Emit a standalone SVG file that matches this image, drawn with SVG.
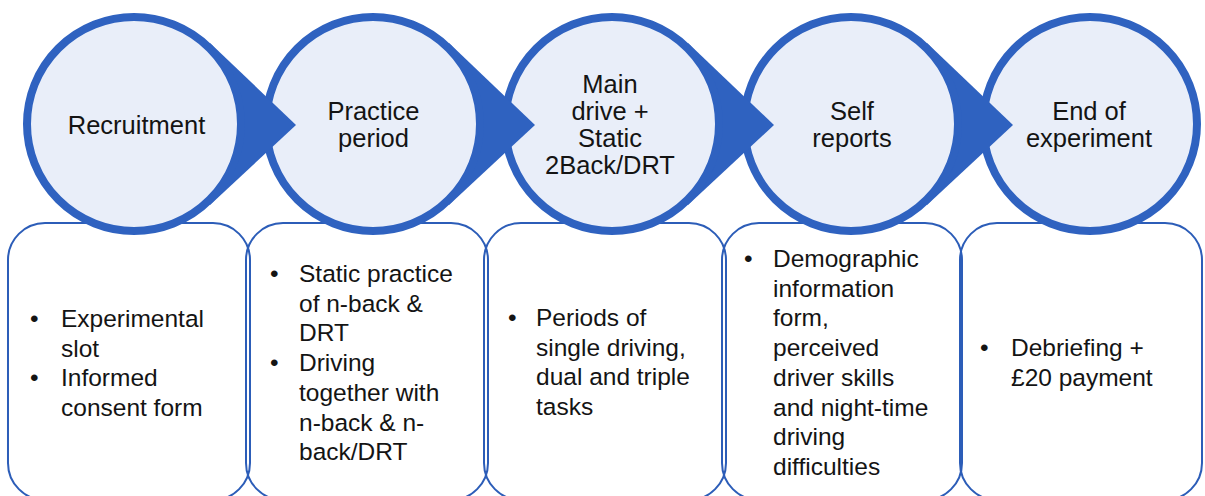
<svg xmlns="http://www.w3.org/2000/svg" width="1205" height="496" viewBox="0 0 1205 496">
<style>
.box{fill:none;stroke:#2C5DB8;stroke-width:2}
.ring{fill:#E9EEF9;stroke:#2F62C0;stroke-width:8}
.tab{fill:#2F62C0;stroke:none}
.t{font-family:"Liberation Sans",Arial,sans-serif;fill:#141414}
.c{font-size:25.5px;text-anchor:middle}
.b{font-size:24.5px}
</style>
<rect width="1205" height="496" fill="#FFFFFF"/>
<g id="boxes">
<g id="box1"><rect class="box" x="8" y="223" width="242" height="277" rx="37"/>
<text class="t b"><tspan x="30" y="327">•</tspan><tspan x="61" y="327">Experimental</tspan><tspan x="61" y="356.5">slot</tspan><tspan x="30" y="386">•</tspan><tspan x="61" y="386">Informed</tspan><tspan x="61" y="415.5">consent form</tspan></text></g>
<g id="box2"><rect class="box" x="246" y="223" width="242" height="277" rx="37"/>
<text class="t b"><tspan x="270" y="282">•</tspan><tspan x="299" y="282">Static practice</tspan><tspan x="299" y="311.7">of n-back &amp;</tspan><tspan x="299" y="341.4">DRT</tspan><tspan x="270" y="371.1">•</tspan><tspan x="299" y="371.1">Driving</tspan><tspan x="299" y="400.8">together with</tspan><tspan x="299" y="430.5">n-back &amp; n-</tspan><tspan x="299" y="460.2">back/DRT</tspan></text></g>
<g id="box3"><rect class="box" x="484" y="223" width="242" height="277" rx="37"/>
<text class="t b"><tspan x="508" y="326">•</tspan><tspan x="536" y="326">Periods of</tspan><tspan x="536" y="355.5">single driving,</tspan><tspan x="536" y="385">dual and triple</tspan><tspan x="536" y="414.5">tasks</tspan></text></g>
<g id="box4"><rect class="box" x="722" y="223" width="240" height="277" rx="37"/>
<text class="t b"><tspan x="744" y="267">•</tspan><tspan x="773" y="267">Demographic</tspan><tspan x="773" y="296.7">information</tspan><tspan x="773" y="326.4">form,</tspan><tspan x="773" y="356.1">perceived</tspan><tspan x="773" y="385.8">driver skills</tspan><tspan x="773" y="415.5">and night-time</tspan><tspan x="773" y="445.2">driving</tspan><tspan x="773" y="474.9">difficulties</tspan></text></g>
<g id="box5"><rect class="box" x="960" y="223" width="242" height="277" rx="37"/>
<text class="t b"><tspan x="980" y="356">•</tspan><tspan x="1011" y="356">Debriefing +</tspan><tspan x="1011" y="385.7">£20 payment</tspan></text></g>
</g>
<g id="connectors">
</g>
<g id="stages">
<g id="stage5"><circle class="ring" cx="1090" cy="124" r="107"/>
<text class="t c"><tspan x="1089" y="120">End of</tspan><tspan x="1089" y="147">experiment</tspan></text></g>
<g id="stage4"><polygon class="tab" points="927,43 1013,125 927,205 851,124"/><circle class="ring" cx="851" cy="124" r="107"/>
<text class="t c"><tspan x="852" y="120">Self</tspan><tspan x="852" y="147">reports</tspan></text></g>
<g id="stage3"><polygon class="tab" points="688,43 774,125 688,205 612,124"/><circle class="ring" cx="612" cy="124" r="107"/>
<text class="t c"><tspan x="610" y="93">Main</tspan><tspan x="610" y="120">drive +</tspan><tspan x="610" y="147">Static</tspan><tspan x="610" y="174">2Back/DRT</tspan></text></g>
<g id="stage2"><polygon class="tab" points="449,43 535,125 449,205 373,124"/><circle class="ring" cx="373" cy="124" r="107"/>
<text class="t c"><tspan x="373.5" y="120">Practice</tspan><tspan x="373.5" y="147">period</tspan></text></g>
<g id="stage1"><polygon class="tab" points="210,43 296,125 210,205 134,124"/><circle class="ring" cx="134" cy="124" r="107"/>
<text class="t c"><tspan x="136.5" y="134">Recruitment</tspan></text></g>
</g>
</svg>
